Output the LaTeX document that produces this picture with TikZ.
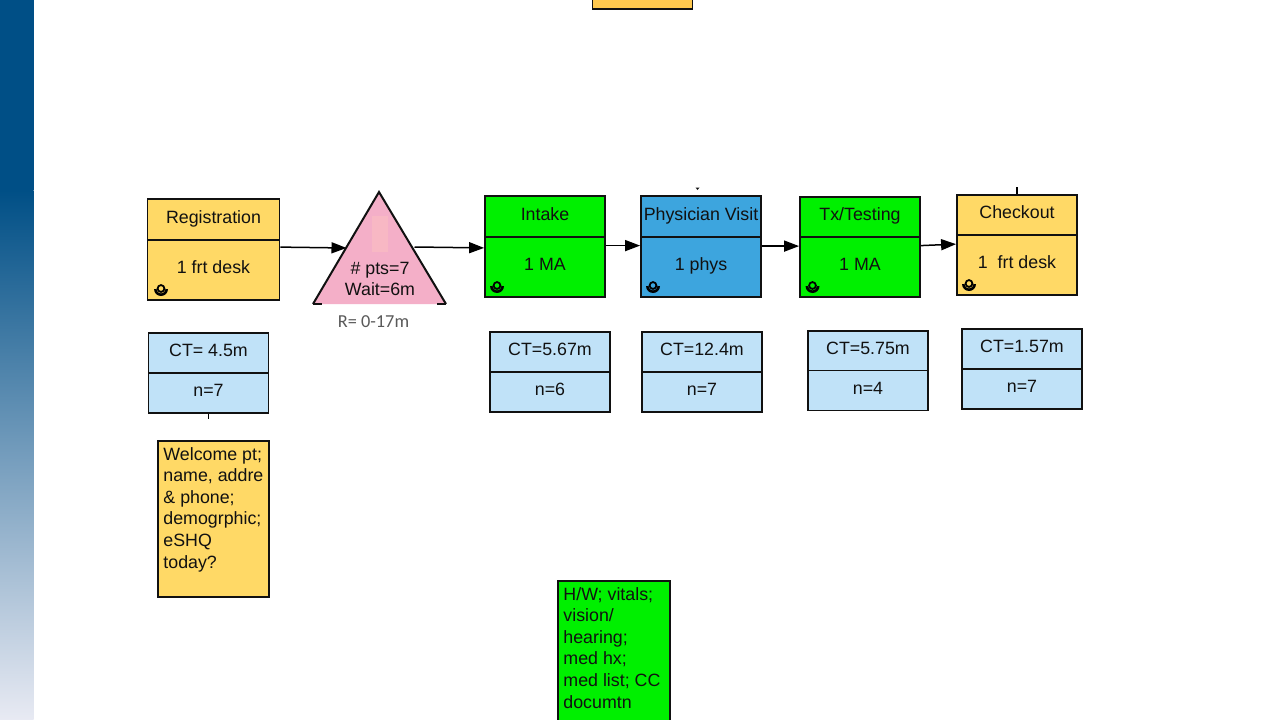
\documentclass[tikz,border=0pt]{standalone}
\usepackage{fontspec}
\setmainfont{Liberation Sans}
\newfontfamily\carl{Carlito}
\usetikzlibrary{arrows.meta}
\definecolor{yel}{HTML}{FFD966}
\definecolor{grn}{HTML}{00F000}
\definecolor{blu}{HTML}{3DA5DE}
\definecolor{lblu}{HTML}{C0E2F8}
\definecolor{pnk}{HTML}{F4AFC8}
\definecolor{pnkb}{HTML}{F8B8C4}
\definecolor{org}{HTML}{FFC94F}
\definecolor{ink}{HTML}{111111}
\tikzset{
  cell/.style={draw=ink,line width=1.8,inner sep=0,minimum width=120,align=center,font=\fontsize{17.8}{21}\selectfont,text=ink,text height=10,text depth=3},
  flow/.style={draw=black,line width=1.5,-{Triangle[length=15,width=11]},shorten >=0},
  note/.style={draw=ink,line width=1.5,inner sep=0,anchor=north west,font=\fontsize{17.8}{21.6}\selectfont,text=ink},
  stub/.style={draw=black,line width=1.2},
  opring/.style={draw=black,line width=1.8}
}
\newcommand{\opicon}[2]{%
  \fill[black] (#1-7,#2-1) arc[start angle=180,end angle=0,radius=7] -- (#1+4.5,#2-1) arc[start angle=0,end angle=180,radius=4.5] -- cycle;
  \draw[opring] (#1,#2-1.5) circle (3.4);
}
\begin{document}
\begin{tikzpicture}[x=1pt,y=-1pt]
\useasboundingbox (0,0) rectangle (1280,720);
\clip (0,0) rectangle (1280,720);
\fill[white] (0,0) rectangle (1280,720);
% side band
\fill[color={rgb,255:red,0;green,79;blue,134}] (0,0) rectangle (33.5,190);
\shade[top color={rgb,255:red,0;green,79;blue,134},bottom color={rgb,255:red,232;green,234;blue,243}] (0,190) rectangle (33.5,720);
% top box
\node[note,fill=org,minimum width=100,minimum height=30] (topbox) at (591.8,-22) {};
% Registration
\node[cell,fill=yel,minimum width=132,minimum height=41] (regt) at (213.5,219.5) {Registration};
\node[cell,fill=yel,minimum width=132,minimum height=60] (regb) at (213.5,270) {1 frt desk};
\opicon{161}{290}
% Triangle
\fill[pnk] (379,192) -- (446,304) -- (313,304) -- cycle;
\fill[pnkb] (372,216) rectangle (388,252);
\draw[ink,line width=2] (313,304) -- (379,192) -- (446,304);
\draw[ink,line width=1.5] (313,304) -- (322,304) (437,304) -- (446,304);
\node[inner sep=0,align=center,font=\fontsize{17.8}{21.5}\selectfont,text=ink] (tri) at (380,279) {\# pts=7\\Wait=6m};
\node[inner sep=0,font=\carl\fontsize{18.3}{20}\selectfont,text=black!65] (range) at (373.5,322) {R= 0-17m};
\coordinate (triin) at (346.5,248);
\coordinate (triout) at (414.5,247);
% Intake
\node[cell,fill=grn,minimum height=41] (intt) at (545,216.5) {Intake};
\node[cell,fill=grn,minimum height=60] (intb) at (545,267) {1 MA};
\opicon{497}{287}
% Physician
\node[cell,fill=blu,minimum height=41] (phyt) at (701,216.5) {Physician Visit};
\node[cell,fill=blu,minimum height=60] (phyb) at (701,267) {1 phys};
\opicon{653}{287}
% Tx
\node[cell,fill=grn,minimum height=40] (txt) at (860,217) {Tx/Testing};
\node[cell,fill=grn,minimum height=60] (txb) at (860,267) {1 MA};
\opicon{812.5}{287}
% Checkout
\node[cell,fill=yel,minimum height=40] (chkt) at (1017,215) {Checkout};
\node[cell,fill=yel,minimum height=60] (chkb) at (1017,265) {1\ \ frt desk};
\opicon{969}{285}
% CT boxes
\node[cell,fill=lblu,minimum height=40] (cta) at (208.5,353) {CT= 4.5m};
\node[cell,fill=lblu,minimum height=40] (na) at (208.5,393) {n=7};
\node[cell,fill=lblu,minimum height=40] (ctb) at (550,352) {CT=5.67m};
\node[cell,fill=lblu,minimum height=40] (nb) at (550,392) {n=6};
\node[cell,fill=lblu,minimum height=40] (ctc) at (702,352) {CT=12.4m};
\node[cell,fill=lblu,minimum height=40] (nc) at (702,392) {n=7};
\node[cell,fill=lblu,minimum height=40] (ctd) at (868,351) {CT=5.75m};
\node[cell,fill=lblu,minimum height=40] (nd) at (868,390.5) {n=4};
\node[cell,fill=lblu,minimum height=40] (cte) at (1022,349) {CT=1.57m};
\node[cell,fill=lblu,minimum height=40] (ne) at (1022,389) {n=7};
% Notes
\node[note,fill=yel] (noteA) at (157.2,440) {\parbox[t][156pt][t]{111pt}{\raggedright\leftskip=5.5pt\vspace{6.5pt}Welcome pt;\\name, addre\\\&\ phone;\\demogrphic;\\eSHQ\\today?}};
\node[note,fill=grn] (noteB) at (557.2,580) {\parbox[t][170pt][t]{112pt}{\raggedright\leftskip=5.5pt\vspace{6.5pt}H/W; vitals;\\vision/\\hearing;\\med hx;\\med list; CC\\documtn}};
% Connectors
\draw[flow] ([yshift=-8]regb.north east) -- (triin);
\draw[flow] (triout) -- ([yshift=-10]intt.south west);
\draw[flow] ([yshift=-9.5]intb.north east) -- ([yshift=-9.5]phyb.north west);
\draw[flow] ([yshift=-10]phyb.north east) -- ([yshift=-10]txb.north west);
\draw[flow] ([yshift=-9.5]txb.north east) -- ([yshift=-10]chkb.north west);
% Stubs
\draw[stub] (na.south) -- ++(0,5);
\draw[stub] (chkt.north) -- ++(0,-7);
\fill[ink] (695.5,187.5) -- (699.5,187.5) -- (697.5,190) -- cycle;
\end{tikzpicture}
\end{document}
